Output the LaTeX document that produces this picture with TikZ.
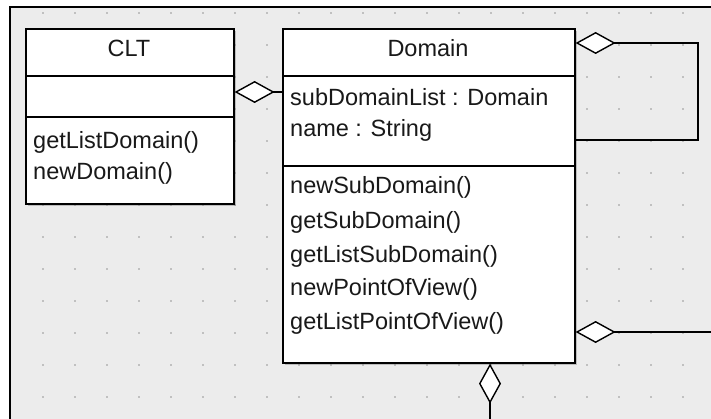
\documentclass[tikz,border=0pt]{standalone}
\usepackage{fontspec}
\setmainfont{Liberation Sans}
\usetikzlibrary{arrows.meta,shadows}
\definecolor{bgray}{RGB}{236,236,236}
\definecolor{dotgray}{RGB}{192,192,192}
\begin{document}
\begin{tikzpicture}[x=1pt,y=-1pt,
  umlbox/.style={draw=black, line width=1.6pt, fill=white, rectangle, anchor=north west, inner sep=0pt,
    drop shadow={shadow xshift=2.5pt, shadow yshift=-2.5pt, opacity=0.35, fill=black!60}},
  sep/.style={line width=1.3pt},
  txt/.style={anchor=west, inner sep=0pt, font=\fontsize{23.5}{28}\selectfont, text=black!90},
  ttl/.style={inner sep=0pt, font=\fontsize{23.5}{28}\selectfont, text=black!90},
  conn/.style={line width=1.6pt},
  agg/.style={conn, {Diamond[open, fill=white, length=40pt, width=22pt, line width=1.4pt]}-}]
\useasboundingbox (0,0) rectangle (711,419);
% background and frame
\fill[white] (0,0) rectangle (711,419);
\fill[bgray] (10,7) rectangle (711,419);
\draw[line width=2pt] (10,419) -- (10,7) -- (711,7);
% grid dots
\foreach \i in {1,...,21} {
  \foreach \j in {0,...,12} {
    \fill[dotgray] ({11+32*\i-1.3},{13+32*\j-1.3}) rectangle ++(2.6,2.6);
  }
}
% CLT class
\node[umlbox, minimum width=208pt, minimum height=175pt] (clt) at (25,28) {};
\draw[sep] (clt.west |- 0,76) -- (clt.east |- 0,76);
\draw[sep] (clt.west |- 0,117) -- (clt.east |- 0,117);
\node[ttl] (cltname) at (129,48) {CLT};
\node[txt] (m1) at (33,142) {getListDomain()};
\node[txt] (m2) at (33,173) {newDomain()};
% Domain class
\node[umlbox, minimum width=292pt, minimum height=334pt] (dom) at (282,28) {};
\draw[sep] (dom.west |- 0,76) -- (dom.east |- 0,76);
\draw[sep] (dom.west |- 0,166) -- (dom.east |- 0,166);
\node[ttl] (domname) at (428,48) {Domain};
\node[txt] (a1) at (290,97) {subDomainList : Domain};
\node[txt] (a2) at (290,130) {name : String};
\node[txt] (d1) at (290,187) {newSubDomain()};
\node[txt] (d2) at (290,222) {getSubDomain()};
\node[txt] (d3) at (290,256) {getListSubDomain()};
\node[txt] (d4) at (290,289) {newPointOfView()};
\node[txt] (d5) at (290,323) {getListPointOfView()};
% connectors
\draw[agg] (clt.east |- 0,92) -- (dom.west |- 0,92);
\coordinate (loopa) at (698,43);
\coordinate (loopb) at (698,140);
\draw[agg] (dom.east |- loopa) -- (loopa) -- (loopb) -- (dom.east |- loopb);
\coordinate (rightend) at (711,332);
\draw[agg] (dom.east |- rightend) -- (rightend);
\coordinate (botend) at (490,419);
\draw[agg] (botend |- dom.south) -- (botend);
\end{tikzpicture}
\end{document}
